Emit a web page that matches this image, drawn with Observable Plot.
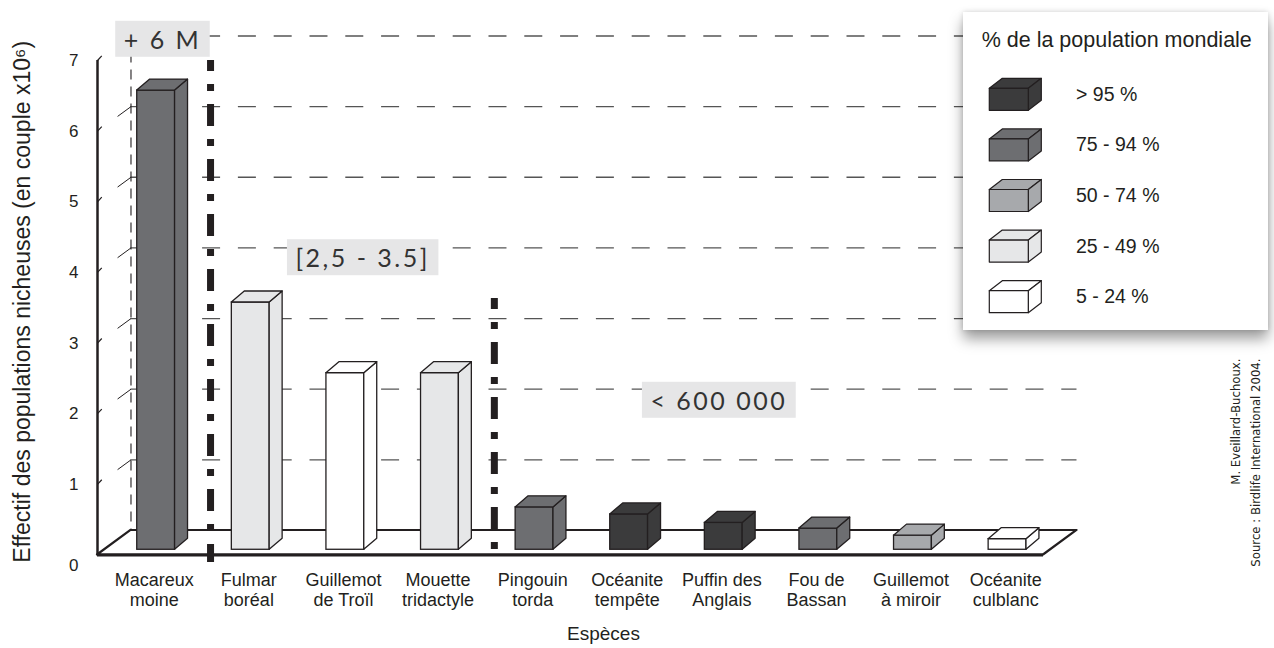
<!DOCTYPE html>
<html>
<head>
<meta charset="utf-8">
<script src="https://cdn.jsdelivr.net/npm/d3@7"></script>
<script src="https://cdn.jsdelivr.net/npm/@observablehq/plot@0.6"></script>
<style>
  body { margin: 0; background: #fff; font-family: "Liberation Sans", Arial, sans-serif; color: #231f20; }
  #wrap { position: relative; width: 1274px; height: 648px; overflow: hidden; }
  #legend {
    position: absolute; left: 963px; top: 12px; width: 305px; height: 318px;
    background: #fff;
    box-shadow: 0 9px 13px rgba(0,0,0,0.38), 0 0 5px rgba(0,0,0,0.15);
  }
  #legend svg { display: block; }
</style>
</head>
<body>
<div id="wrap"></div>
<script>
// Breeding seabird populations (millions of pairs) and share of the world population
const species = [
  "Macareux\nmoine", "Fulmar\nboréal", "Guillemot\nde Troïl", "Mouette\ntridactyle",
  "Pingouin\ntorda", "Océanite\ntempête", "Puffin des\nAnglais", "Fou de\nBassan",
  "Guillemot\nà miroir", "Océanite\nculblanc"
];
const couples = [6.5, 3.5, 2.5, 2.5, 0.6, 0.5, 0.38, 0.3, 0.2, 0.15];
const shareClass = [
  "75 - 94 %", "25 - 49 %", "5 - 24 %", "25 - 49 %", "75 - 94 %",
  "> 95 %", "> 95 %", "75 - 94 %", "50 - 74 %", "5 - 24 %"
];
const classes = ["> 95 %", "75 - 94 %", "50 - 74 %", "25 - 49 %", "5 - 24 %"];
const shades = ["#3b3b3c", "#6d6e71", "#a7a9ac", "#e6e7e8", "#ffffff"];
const yTicks = [0, 1, 2, 3, 4, 5, 6, 7];

// size groups: separator after a species index, and the group caption
const groupBreaks = [{after: 0, top: 7}, {after: 3, top: 3.63}];
const groupLabels = [
  {label: "+ 6 M", x: 0.687, y: 7.279},
  {label: "[2,5 - 3.5]", x: 2.803, y: 4.187},
  {label: "< 600 000", x: 6.568, y: 2.169}
];

// pseudo-3D geometry, in scale units
const DX = 0.354, DY = 0.347;                 // depth of floor / walls
const BX0 = 0.42, BX1 = 0.82, BY0 = 0.074;   // front face of a column
const BDX = 0.137, BDY = 0.156;               // depth of a column
const N = species.length;
const ink = "#231f20";

const bars = species.map((name, i) => ({
  i, name, v: couples[i], cls: shareClass[i],
  x1: i + BX0, x2: i + BX1, y0: BY0, y1: BY0 + couples[i]
}));
const sides = bars.flatMap(b => [
  {i: b.i, cls: b.cls, x: b.x2, lo: b.y0, hi: b.y1},
  {i: b.i, cls: b.cls, x: b.x2 + BDX, lo: b.y0 + BDY, hi: b.y1 + BDY}
]);
const tops = bars.flatMap(b => [
  {i: b.i, cls: b.cls, y: b.y1, a: b.x1, b: b.x2},
  {i: b.i, cls: b.cls, y: b.y1 + BDY, a: b.x1 + BDX, b: b.x2 + BDX}
]);
const floor = [{y: 0, a: 0, b: N}, {y: DY, a: DX, b: N + DX}];
const levels = yTicks.filter(v => v > 0);

const chart = Plot.plot({
  width: 1274,
  height: 648,
  marginLeft: 97,
  marginRight: 231,
  marginTop: 60,
  marginBottom: 93.5,
  x: {domain: [0, N], axis: null},
  y: {domain: [0, 7], axis: null},
  color: {domain: classes, range: shades},
  style: {fontFamily: '"Liberation Sans", Arial, sans-serif', color: ink, background: "transparent", overflow: "visible"},
  marks: [
    // floor
    Plot.areaX(floor, {y: "y", x1: "a", x2: "b", fill: "white", stroke: ink, strokeWidth: 2.2}),
    Plot.ruleY([0], {x1: () => 0, x2: () => N, stroke: ink, strokeWidth: 3}),
    // back wall grid
    Plot.ruleY(levels, {y: v => v + DY, x1: () => DX, x2: () => N + DX, stroke: "#555", strokeWidth: 1.3, strokeDasharray: "18,17.8"}),
    Plot.ruleX([DX], {y1: () => 7 + DY, y2: () => DY, stroke: ink, strokeWidth: 1.1, strokeDasharray: "10,7"}),
    Plot.link(levels, {x1: () => 0.6 * DX, y1: v => v + 0.6 * DY, x2: () => DX, y2: v => v + DY, stroke: ink, strokeWidth: 1}),
    // front value axis
    Plot.ruleX([0], {y1: () => 0, y2: () => 7, stroke: ink, strokeWidth: 2.5}),
    Plot.link(levels, {x1: () => 0, y1: v => v, x2: () => 0.045, y2: v => v + 0.065, stroke: ink, strokeWidth: 1.2}),
    Plot.text(levels, {x: () => 0, y: v => v, text: v => String(v), textAnchor: "end", dx: -19, fontSize: 17, fill: ink}),
    Plot.text([0], {x: () => 0, y: v => v, text: v => String(v), textAnchor: "end", dx: -19, dy: 10.5, fontSize: 17, fill: ink}),
    // group captions
    Plot.text(groupLabels, {x: "x", y: "y", text: "label", fontSize: 25, fontFamily: "Lato, 'Open Sans', sans-serif", fill: "#333"}),
    // columns
    Plot.rect(bars, {x1: "x1", x2: "x2", y1: "y0", y2: "y1", fill: "cls", stroke: ink, strokeWidth: 1.3}),
    Plot.areaY(sides, {x: "x", y1: "lo", y2: "hi", z: "i", fill: "cls", stroke: ink, strokeWidth: 1.3}),
    Plot.areaX(tops, {y: "y", x1: "a", x2: "b", z: "i", fill: "cls", stroke: ink, strokeWidth: 1.3}),
    // group separators
    Plot.ruleX(groupBreaks, {x: d => d.after + 1.195, y1: "top", y2: () => -0.106, stroke: ink, strokeWidth: 7, strokeDasharray: "22,13,7,13", strokeDashoffset: 11}),
    // species names
    Plot.text(bars, {x: d => d.i + 0.6, y: () => 0, text: "name", lineAnchor: "top", dy: 16, fontSize: 18, lineHeight: 1.14, fill: ink}),
    // axis titles
    Plot.text(["Effectif des populations nicheuses (en couple x10\u2076)"], {frameAnchor: "left", text: d => d, rotate: -90, textAnchor: "middle", dx: -75, dy: -6, fontSize: 23, fill: ink}),
    Plot.text(["Espèces"], {frameAnchor: "bottom", text: d => d, dx: 33, dy: 85, fontSize: 19, fill: ink}),
    // credits
    Plot.text(["M. Eveillard-Buchoux.\nSource : Birdlife International 2004."], {
      frameAnchor: "top-right", text: d => d, rotate: -90, textAnchor: "end", lineAnchor: "middle",
      dx: 200, dy: 298, fontSize: 13, lineHeight: 1.54,
      fontFamily: "'Liberation Sans Narrow', 'DejaVu Sans Condensed', Roboto, sans-serif", fill: ink
    })
  ]
});

const wrap = document.getElementById("wrap");
wrap.appendChild(chart);

// grey boxes behind the group captions
const captionSet = new Set(groupLabels.map(d => d.label));
d3.select(chart).selectAll("text").filter(function () {
  return captionSet.has(this.textContent);
}).each(function () {
  this.setAttribute("letter-spacing", "2.5");
  const b = this.getBBox();
  const r = document.createElementNS("http://www.w3.org/2000/svg", "rect");
  r.setAttribute("x", b.x - 8.5);
  r.setAttribute("y", b.y - 3);
  r.setAttribute("width", b.width + 17);
  r.setAttribute("height", b.height + 6);
  r.setAttribute("fill", "#e6e6e7");
  r.setAttribute("stroke", "none");
  const t = this.getAttribute("transform");
  if (t) r.setAttribute("transform", t);
  this.parentNode.insertBefore(r, this);
});

// legend: shaded boxes for each class of world-population share
const color = chart.scale("color");
const legend = d3.select(wrap).append("div").attr("id", "legend");
const ls = legend.append("svg").attr("width", 305).attr("height", 318)
  .style("font-family", '"Liberation Sans", Arial, sans-serif');
ls.append("text").attr("x", 18.7).attr("y", 35).attr("fill", ink)
  .style("font-size", "21.5px").text("% de la population mondiale");
classes.forEach((c, k) => {
  const w = 39, h = 22, dx = 13, dy = 10;
  const top = 76.3 + k * 50.6;
  const fill = color.apply(c);
  const g = ls.append("g").attr("transform", `translate(26.3,${top})`)
    .attr("fill", fill).attr("stroke", ink).attr("stroke-width", 1.2).attr("stroke-linejoin", "round");
  g.append("path").attr("d", `M0,0L${dx},${-dy}L${w + dx},${-dy}L${w},0Z`);
  g.append("path").attr("d", `M${w},0L${w + dx},${-dy}L${w + dx},${h - dy}L${w},${h}Z`);
  g.append("rect").attr("width", w).attr("height", h);
  ls.append("text").attr("x", 113).attr("y", top + 12.5).attr("fill", ink)
    .style("font-size", "19.5px").text(c);
});
</script>
</body>
</html>
